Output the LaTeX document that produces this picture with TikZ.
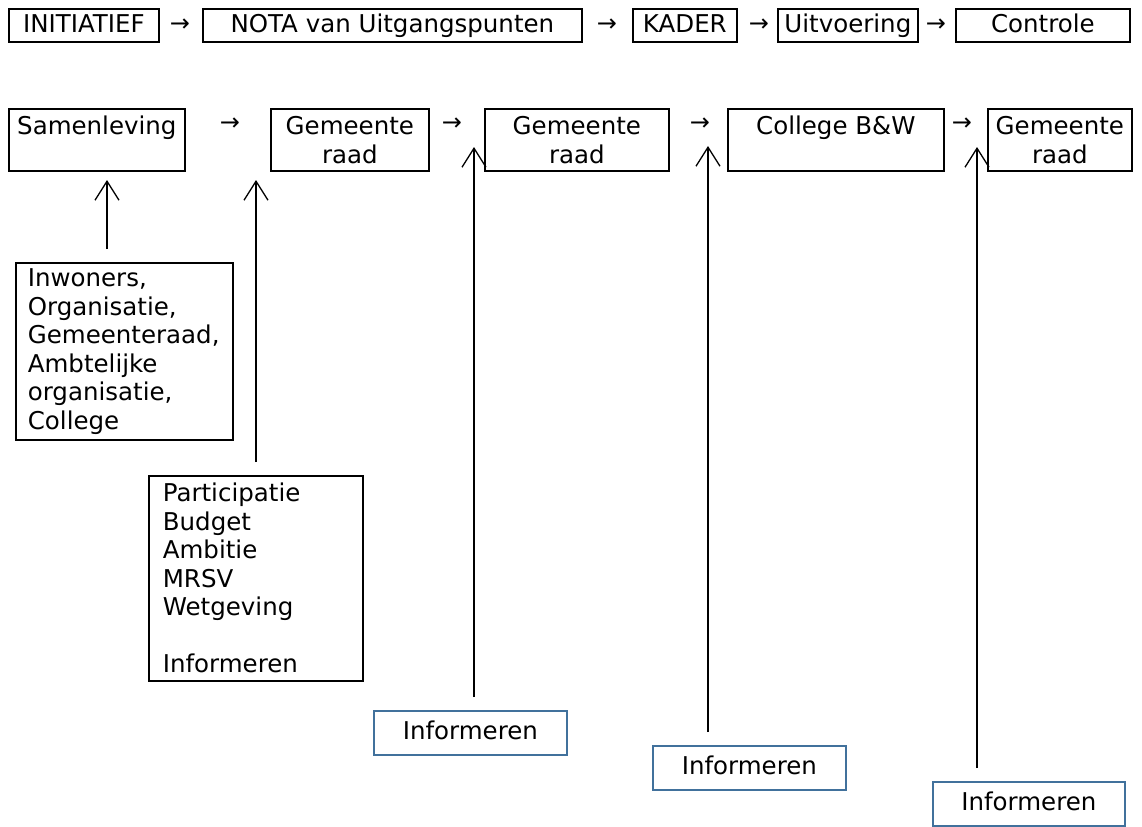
\documentclass[tikz,border=0pt]{standalone}
\usepackage{fontspec}
\setmainfont{DejaVu Sans}
\usepackage{tikz}
\definecolor{InfoBlue}{HTML}{41719C}
\usetikzlibrary{arrows.meta}
\usetikzlibrary{positioning}

\begin{document}
\begin{tikzpicture}[x=1pt, y=-1pt,
    font=\fontsize{24.5}{28.5}\selectfont,
    stepbox/.style={shape=rectangle, draw, line width=1.7pt,
      anchor=north west, inner sep=0pt,
      minimum height=33pt, text height=18pt, text depth=4pt},
    actorbox/.style={shape=rectangle, draw, line width=1.7pt,
      anchor=north west, inner sep=0pt,
      minimum height=62pt, align=center},
    listbox/.style={shape=rectangle, draw, line width=1.7pt,
      anchor=north west, align=left, inner ysep=6pt},
    infobox/.style={shape=rectangle, draw=InfoBlue, line width=1.7pt,
      anchor=north west, inner sep=0pt,
      minimum height=44pt, text height=18pt, text depth=4pt},
    glyph/.style={inner sep=0pt, font=\fontsize{24}{24}\selectfont},
    upar/.style={line width=1.3pt, shorten <=13pt,
      -{Straight Barb[length=19pt,width=24pt]}}]

    % bovenste rij: fasen
    \node[name=initiatief, stepbox, minimum width=150pt] at (8,8) {INITIATIEF};
    \node[name=pijl1, glyph] at (180,25) {→};
    \node[name=nota, stepbox, minimum width=379pt] at (202,8) {NOTA van Uitgangspunten};
    \node[name=pijl2, glyph] at (607,25) {→};
    \node[name=kader, stepbox, minimum width=104pt] at (632,8) {KADER};
    \node[name=pijl3, glyph] at (759,25) {→};
    \node[name=uitvoering, stepbox, minimum width=140pt] at (777,8) {Uitvoering};
    \node[name=pijl4, glyph] at (936,25) {→};
    \node[name=controle, stepbox, minimum width=174pt] at (955,8) {Controle};

    % tweede rij: actoren
    \node[name=samenleving, actorbox, minimum width=176pt] at (8,108) {Samenleving\\\mbox{}};
    \node[name=pijl5, glyph] at (230,124) {→};
    \node[name=raad1, actorbox, minimum width=158pt] at (270,108) {Gemeente\\raad};
    \node[name=pijl6, glyph] at (452,124) {→};
    \node[name=raad2, actorbox, minimum width=184pt] at (484,108) {Gemeente\\raad};
    \node[name=pijl7, glyph] at (700,124) {→};
    \node[name=college, actorbox, minimum width=216pt] at (727,108) {College B\&W\\\mbox{}};
    \node[name=pijl8, glyph] at (962,124) {→};
    \node[name=raad3, actorbox, minimum width=144pt] at (987,108) {Gemeente\\raad};

    % invoer
    \node[name=inwoners, listbox,
      inner xsep=12pt,
      text width=193pt,
      minimum height=176pt] at (15,262)
      {Inwoners,\\Organisatie,\\Gemeenteraad,\\Ambtelijke\\organisatie,\\College};

    \node[name=participatie, listbox,
      inner xsep=14pt,
      text width=186pt,
      minimum height=205pt] at (148,475)
      {Participatie\\Budget\\Ambitie\\MRSV\\Wetgeving\\[28.5pt]Informeren};

    \node[name=info1, infobox, minimum width=193pt] at (373,710) {Informeren};
    \node[name=info2, infobox, minimum width=193pt] at (652,745) {Informeren};
    \node[name=info3, infobox, minimum width=192pt] at (932,781) {Informeren};

    \coordinate (tip1) at (107,180);
    \coordinate (tip2) at (256,180);
    \coordinate (tip3) at (474,147);
    \coordinate (tip4) at (708,146);
    \coordinate (tip5) at (977,147);

    \path (tip1 |- inwoners.north) edge[upar] (tip1);
    \path (tip2 |- participatie.north) edge[upar] (tip2);
    \path (tip3 |- info1.north) edge[upar] (tip3);
    \path (tip4 |- info2.north) edge[upar] (tip4);
    \path (tip5 |- info3.north) edge[upar] (tip5);

    \path [use as bounding box] (0,0) rectangle (1142,821);
  \end{tikzpicture}
\end{document}
